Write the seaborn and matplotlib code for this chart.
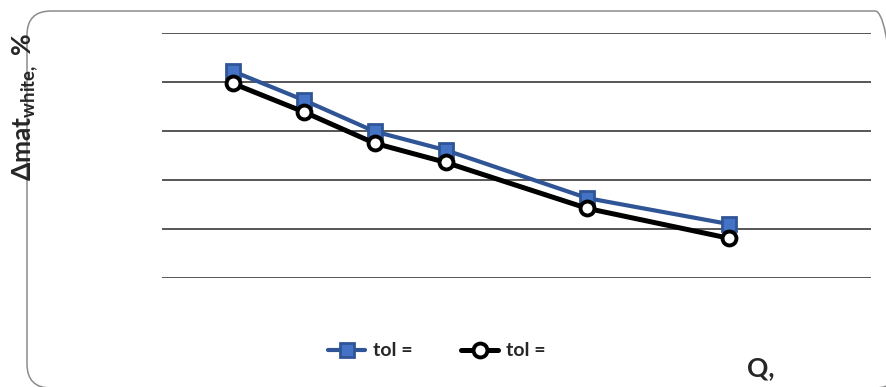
import numpy as np
import pandas as pd
import seaborn as sns
import matplotlib
matplotlib.use("Agg")
import matplotlib.pyplot as plt
from matplotlib.patches import FancyBboxPatch

# Flow settings and the two tolerance series
q_values = [1, 2, 3, 4, 6, 8]
delta_tol_a = [4.22, 3.63, 2.99, 2.61, 1.63, 1.10]
delta_tol_b = [3.97, 3.39, 2.75, 2.36, 1.42, 0.81]
series_labels = ["tol =", "tol ="]
y_ticks = [0, 1, 2, 3, 4, 5]

sns.set_style("white")
plt.rcParams["font.family"] = ["Lato", "DejaVu Sans"]
plt.rcParams["font.weight"] = "bold"
plt.rcParams["mathtext.fontset"] = "custom"
plt.rcParams["mathtext.rm"] = "Lato:bold"
plt.rcParams["mathtext.it"] = "Lato:bold"
plt.rcParams["mathtext.bf"] = "Lato:bold"

W, H = 886, 387
fig = plt.figure(figsize=(W / 100, H / 100), dpi=100)
ax = fig.add_axes([162 / W, 1 - 278 / H, (871 - 162) / W, (278 - 33) / H])

df = pd.DataFrame({"Q": q_values, "a": delta_tol_a, "b": delta_tol_b})

sns.lineplot(data=df, x="Q", y="a", ax=ax, color="#2F5597", linewidth=3.0,
             marker="s", markersize=10, markerfacecolor="#4472C4",
             markeredgecolor="#2F5597", markeredgewidth=2,
             label=series_labels[0], zorder=3)
sns.lineplot(data=df, x="Q", y="b", ax=ax, color="black", linewidth=3.6,
             marker="o", markersize=10, markerfacecolor="white",
             markeredgecolor="black", markeredgewidth=2.8,
             label=series_labels[1], zorder=4)

ax.set_xlim(0, 10)
ax.set_ylim(0, 5)
ax.set_yticks(y_ticks)
ax.set_xticks([])
ax.tick_params(left=False, bottom=False, labelleft=False, labelbottom=False)
ax.grid(axis="y", color="#3a3a3a", linewidth=1.2)
ax.grid(axis="x", visible=False)
for s in ax.spines.values():
    s.set_visible(False)
ax.set_xlabel("")
ax.set_ylabel("")
for line in ax.lines:
    line.set_clip_on(False)

leg = ax.legend(loc="center", bbox_to_anchor=(437 / W, 1 - 351 / H),
                bbox_transform=fig.transFigure, ncol=2, frameon=False,
                prop={"family": ["Lato", "DejaVu Sans"], "weight": "bold", "size": 14},
                handlelength=1.9, handletextpad=0.4, columnspacing=2.5)

# Axis titles
fig.text(747 / W, 1 - 376 / H, "Q,", fontsize=19, fontweight="bold",
         ha="left", va="baseline", family=["Lato", "DejaVu Sans"])
fig.text(25 / W, 1 - 107 / H, r"Δmat$_{white,}$ %", fontsize=19,
         fontweight="bold", rotation=90, ha="center", va="center",
         family=["Lato", "DejaVu Sans"])

# Rounded chart-area frame (runs past the right and bottom edges)
x0, x1, y_top, y_bot, r = 27, 899, 11, 388, 24
frame = FancyBboxPatch((x0 / W, 1 - y_bot / H), (x1 - x0) / W, (y_bot - y_top) / H,
                       boxstyle=f"round,pad=0,rounding_size={r / W}",
                       mutation_aspect=W / H,
                       transform=fig.transFigure, facecolor="none",
                       edgecolor="#8c8c8c", linewidth=1.1, clip_on=False)
fig.add_artist(frame)

fig.savefig("out.png", dpi=100)
